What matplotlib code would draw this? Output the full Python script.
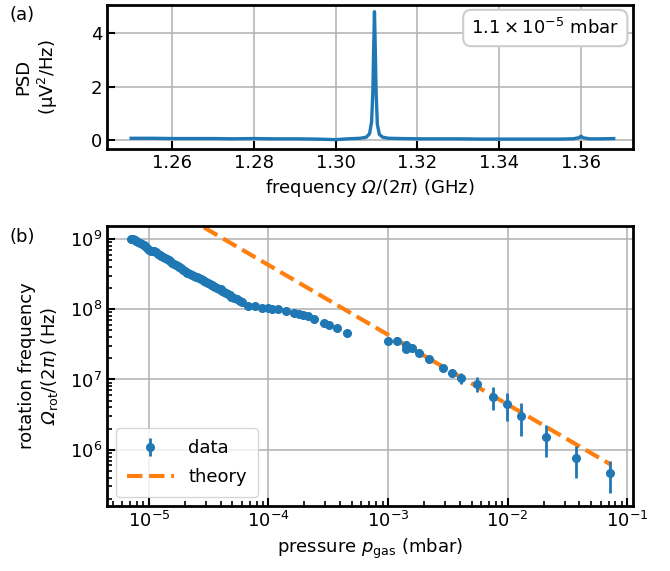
import matplotlib
matplotlib.use('Agg')
import matplotlib.pyplot as plt
import numpy as np

# (a) PSD spectrum
freq = [1.250, 1.255, 1.260, 1.265, 1.270, 1.275, 1.280, 1.285, 1.290, 1.295,
        1.300, 1.303, 1.306, 1.3075, 1.3083, 1.3088, 1.3091, 1.3093, 1.3095,
        1.3097, 1.3099, 1.3102, 1.3107, 1.3115, 1.313, 1.316, 1.320, 1.325,
        1.330, 1.335, 1.340, 1.345, 1.350, 1.355, 1.358, 1.3595, 1.3600,
        1.3605, 1.362, 1.365, 1.368]
psd = [0.08, 0.08, 0.07, 0.07, 0.07, 0.06, 0.07, 0.06, 0.06, 0.05,
       0.03, 0.06, 0.08, 0.12, 0.25, 0.7, 1.8, 3.4, 4.8,
       3.4, 1.8, 0.6, 0.22, 0.12, 0.08, 0.07, 0.06, 0.06,
       0.06, 0.05, 0.05, 0.05, 0.05, 0.05, 0.06, 0.10, 0.16,
       0.10, 0.06, 0.06, 0.07]

# (b) rotation frequency vs pressure, low pressure (1e-5 mbar, 1e8 Hz units)
p_low = [0.708, 0.733, 0.759, 0.785, 0.813, 0.841, 0.871, 0.902, 0.933, 0.966,
         1.000, 1.035, 1.072, 1.109, 1.148, 1.189, 1.230, 1.274, 1.318, 1.365,
         1.413, 1.462, 1.514, 1.567, 1.622, 1.679, 1.738, 1.799, 1.862, 1.928,
         1.995, 2.065, 2.138, 2.213, 2.291, 2.371, 2.455, 2.541, 2.630, 2.723,
         2.818, 2.917, 3.020, 3.126, 3.236, 3.350, 3.467, 3.589, 3.715, 3.846,
         3.981, 4.121, 4.266, 4.416, 4.571, 4.732, 4.898, 5.129, 5.433, 5.754,
         5.960,
         6.70, 7.71, 8.87, 9.96, 10.8, 12.1, 13.9, 16.3, 18.0, 19.5,
         21.5, 24.2, 29.1, 32.1, 37.2, 45.1]
f_low = [10.1, 9.89, 9.66, 9.38, 9.08, 8.81, 8.51, 8.17, 7.85, 7.41,
         7.00, 6.76, 6.73, 6.64, 6.43, 6.19, 5.96, 5.75, 5.56, 5.35,
         5.15, 4.95, 4.79, 4.60, 4.45, 4.29, 4.12, 3.96, 3.80, 3.63,
         3.47, 3.33, 3.25, 3.20, 3.12, 3.02, 2.92, 2.83, 2.74, 2.66,
         2.58, 2.50, 2.43, 2.36, 2.29, 2.22, 2.15, 2.08, 2.02, 1.96,
         1.91, 1.84, 1.78, 1.72, 1.66, 1.60, 1.50, 1.45, 1.40, 1.33,
         1.27,
         1.10, 1.10, 1.045, 1.03, 1.02, 1.00, 0.94, 0.885, 0.85, 0.82,
         0.79, 0.73, 0.64, 0.597, 0.54, 0.46]

# high pressure points with error bars
p_high = [1.0e-3, 1.2e-3, 1.41e-3, 1.41e-3, 1.60e-3, 1.81e-3, 2.20e-3, 2.90e-3,
          3.41e-3, 4.08e-3, 5.52e-3, 7.52e-3, 9.84e-3, 1.30e-2, 2.09e-2,
          3.72e-2, 7.24e-2]
f_high = [3.52e7, 3.52e7, 3.13e7, 2.75e7, 2.84e7, 2.41e7, 1.95e7, 1.45e7,
          1.25e7, 1.06e7, 8.7e6, 5.7e6, 4.5e6, 3.06e6, 1.53e6, 7.6e5, 4.6e5]
err_high = [1.2e6, 1.2e6, 1.5e6, 1.5e6, 1.0e6, 1.0e6, 1.0e6, 1.2e6,
            1.5e6, 1.9e6, 2.0e6, 2.0e6, 1.9e6, 1.5e6, 7.5e5, 3.7e5, 2.2e5]

# theory line end points
p_theory = [2.0e-5, 7.24e-2]
f_theory = [2.1e9, 6.2e5]

plt.rcParams['font.size'] = 13
plt.rcParams['font.family'] = 'DejaVu Sans'
# custom math fonts: sf used as italic so that capital Greek can be slanted
plt.rcParams['mathtext.fontset'] = 'custom'
plt.rcParams['mathtext.rm'] = 'DejaVu Sans'
plt.rcParams['mathtext.it'] = 'DejaVu Sans:italic'
plt.rcParams['mathtext.sf'] = 'DejaVu Sans:italic'
plt.rcParams['mathtext.bf'] = 'DejaVu Sans:bold'
plt.rcParams['axes.linewidth'] = 2.0
for ax_ in ['xtick', 'ytick']:
    plt.rcParams[ax_ + '.direction'] = 'in'
    plt.rcParams[ax_ + '.major.size'] = 6
    plt.rcParams[ax_ + '.minor.size'] = 3.5
    plt.rcParams[ax_ + '.major.width'] = 1.5
    plt.rcParams[ax_ + '.minor.width'] = 1.2

blue = '#1f77b4'
orange = '#ff7f0e'

fig = plt.figure(figsize=(6.7, 5.71), dpi=100)
axA = fig.add_axes([0.1597, 1 - 149 / 571, 0.785, 144 / 571])
axB = fig.add_axes([0.1597, 1 - 506 / 571, 0.785, 280 / 571])

# panel (a)
axA.plot(freq, psd, '-', color=blue, lw=2.4)
axA.set_xlim(1.2441, 1.3727)
axA.set_ylim(-0.32, 5.05)
axA.set_xticks([1.26, 1.28, 1.30, 1.32, 1.34, 1.36])
axA.set_xticklabels(['1.26', '1.28', '1.30', '1.32', '1.34', '1.36'])
axA.set_yticks([0, 2, 4])
axA.grid(which='major', color='#b0b0b0', lw=1.1)
axA.set_axisbelow(True)
axA.set_xlabel(r'frequency $\mathsf{\Omega}/(2\mathsf{\pi})$ (GHz)')
axA.set_ylabel('PSD\n(µV$^2$/Hz)')
axA.yaxis.set_label_coords(-0.089, 0.5)
axA.text(0.974, 0.91, r'$1.1 \times 10^{-5}$ mbar', transform=axA.transAxes,
         ha='right', va='top',
         bbox=dict(boxstyle='round,pad=0.45', fc='white', ec='#cccccc', lw=1.5))

# panel (b)
yerr = np.concatenate([np.zeros(len(p_low)), err_high])
p_all = np.concatenate([np.array(p_low) * 1e-5, p_high])
f_all = np.concatenate([np.array(f_low) * 1e8, f_high])
hd = axB.errorbar(p_all, f_all, yerr=yerr, fmt='o', color=blue, ms=5.5,
                  elinewidth=2, capsize=0, label='data', zorder=3)
ht, = axB.plot(p_theory, f_theory, '--', color=orange, lw=3, label='theory', zorder=2)
axB.set_xscale('log')
axB.set_yscale('log')
axB.set_xlim(4.46e-6, 0.112)
axB.set_ylim(1.58e5, 1.53e9)
axB.grid(which='major', color='#b0b0b0', lw=1.1)
axB.set_axisbelow(True)
axB.set_xlabel(r'pressure $p_\mathrm{gas}$ (mbar)')
axB.set_ylabel('rotation frequency\n'
               + r'$\mathsf{\Omega}_\mathrm{rot}/(2\mathsf{\pi})$ (Hz)')
axB.yaxis.set_label_coords(-0.089, 0.5)
axB.legend([hd, ht], ['data', 'theory'], loc='lower left', fancybox=True,
           edgecolor='#cccccc', handlelength=2.6, handletextpad=0.8,
           labelspacing=0.6, borderpad=0.6)

fig.text(0.014, 0.99, '(a)', va='top', ha='left')
fig.text(0.014, 1 - 228 / 571, '(b)', va='top', ha='left')

fig.savefig('out.png', dpi=100)
